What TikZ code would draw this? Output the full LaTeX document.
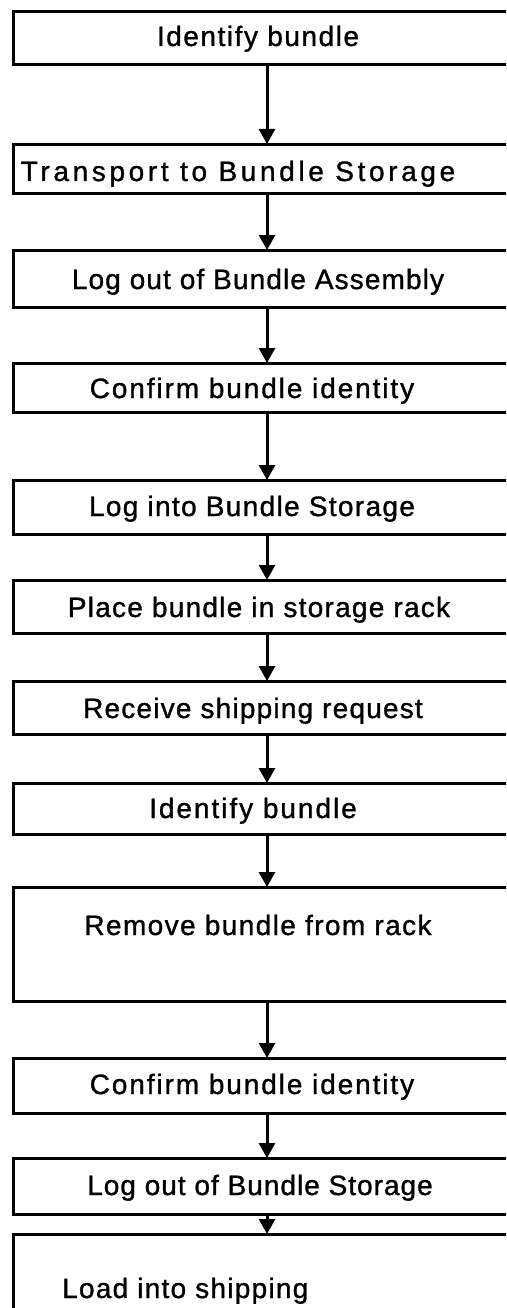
\documentclass[tikz,border=0pt]{standalone}
\usepackage{fontspec}
\newfontfamily\boxfont{Liberation Sans}[LetterSpace=4.5,FakeBold=1.1]
\usetikzlibrary{arrows.meta}
\tikzset{
  box/.style={draw=black, line width=2.8pt, fill=none, anchor=north west, minimum width=540pt, inner sep=0pt},
  lbl/.style={font=\boxfont\fontsize{28}{32}\selectfont, inner sep=0pt, anchor=base, text=black},
  arr/.style={line width=3pt, -{Triangle[width=16pt,length=15pt]}, shorten >=-1pt}
}
\newcommand{\ls}[1]{\addfontfeature{LetterSpace=#1}}
\begin{document}
\begin{tikzpicture}[x=1pt,y=1pt]
\useasboundingbox (0,0) rectangle (506,-1308);
\fill[white] (0,0) rectangle (506,-1308);
\clip (0,0) rectangle (506,-1308);
\coordinate (ax) at (267,0);
% boxes
\node[box, minimum height=53pt] (b1) at (12,-10) {};
\node[box, minimum height=49pt] (b2) at (12,-143) {};
\node[box, minimum height=57pt] (b3) at (12,-249) {};
\node[box, minimum height=49pt] (b4) at (12,-362) {};
\node[box, minimum height=54pt] (b5) at (12,-479) {};
\node[box, minimum height=53pt] (b6) at (12,-579) {};
\node[box, minimum height=53pt] (b7) at (12,-680) {};
\node[box, minimum height=51pt] (b8) at (12,-782) {};
\node[box, minimum height=114pt] (b9) at (12,-886) {};
\node[box, minimum height=55pt] (b10) at (12,-1057) {};
\node[box, minimum height=56pt] (b11) at (12,-1157) {};
\node[box, minimum height=100pt] (b12) at (12,-1233) {};
% labels
\node[lbl] (t1) at (258,-46) {\ls{5.5}Identify bundle};
\node[lbl] (t2) at (238,-181) {\ls{13}Transport to Bundle Storage};
\node[lbl] (t3) at (258,-289) {\ls{4}Log out of Bundle Assembly};
\node[lbl] (t4) at (252,-398) {\ls{6.8}Confirm bundle identity};
\node[lbl] (t5) at (252,-516) {\ls{4.8}Log into Bundle Storage};
\node[lbl] (t6) at (259,-617) {Place bundle in storage rack};
\node[lbl] (t7) at (253,-718) {\ls{4.3}Receive shipping request};
\node[lbl] (t8) at (253,-818) {\ls{7}Identify bundle};
\node[lbl] (t9) at (258,-935) {\ls{5}Remove bundle from rack};
\node[lbl] (t10) at (252,-1094) {\ls{6.8}Confirm bundle identity};
\node[lbl] (t11) at (260,-1195) {\ls{3.6}Log out of Bundle Storage};
\node[lbl, anchor=base west] (t12) at (62,-1298) {Load into shipping};
% arrows
\foreach \a/\b in {b1/b2,b2/b3,b3/b4,b4/b5,b5/b6,b6/b7,b7/b8,b8/b9,b9/b10,b10/b11,b11/b12}
  \draw[arr] (\a.south -| ax) -- (\b.north -| ax);
\end{tikzpicture}
\end{document}
